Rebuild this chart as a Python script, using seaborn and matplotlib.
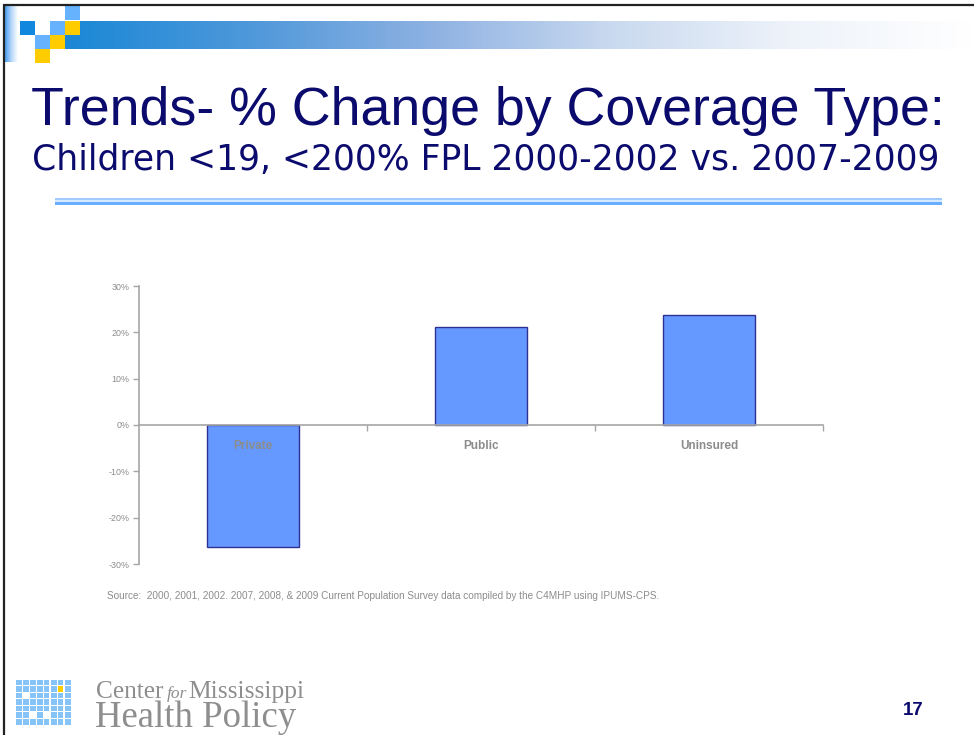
import numpy as np
import pandas as pd
import matplotlib
matplotlib.use("Agg")
import matplotlib.pyplot as plt
from matplotlib.patches import Rectangle
from matplotlib.colors import LinearSegmentedColormap
import seaborn as sns

# ---- data ----
categories = ["Private", "Public", "Uninsured"]
pct_change = [-0.264, 0.212, 0.237]
y_ticks = [-0.30, -0.20, -0.10, 0.0, 0.10, 0.20, 0.30]
y_tick_labels = ["-30%", "-20%", "-10%", "0%", "10%", "20%", "30%"]

title = "Trends- % Change by Coverage Type:"
subtitle = "Children <19, <200% FPL 2000-2002 vs. 2007-2009"
source = ("Source:  2000, 2001, 2002. 2007, 2008, & 2009 Current Population "
          "Survey data compiled by the C4MHP using IPUMS-CPS.")
slide_number = "17"

sns.set_theme(style="white")
plt.rcParams["font.family"] = ["Liberation Sans", "DejaVu Sans"]

W, H = 974, 735
fig = plt.figure(figsize=(W / 100, H / 100), dpi=100)
fig.patch.set_facecolor("white")


def fx(px):
    return px / W


def fy(py):
    return 1 - py / H


def rect(x0, y0, x1, y1, color, **kw):
    fig.patches.append(Rectangle((fx(x0), fy(y1)), fx(x1) - fx(x0), (y1 - y0) / H,
                                 transform=fig.transFigure, facecolor=color,
                                 edgecolor="none", **kw))


# ---- slide header decoration ----
band = fig.add_axes([fx(65), fy(49), fx(W) - fx(65), (49 - 21) / H])
band_cmap = LinearSegmentedColormap.from_list(
    "band", ["#1A88D6", "#4E98DA", "#8DB1E2", "#C9D9EF", "#EEF3FA", "#FFFFFF"])
band.imshow(np.linspace(0, 1, 400)[None, :], cmap=band_cmap, aspect="auto",
            extent=[0, 1, 0, 1])
band.set_axis_off()

strip = fig.add_axes([fx(5), fy(62), fx(18) - fx(5), (62 - 6) / H])
strip_cmap = LinearSegmentedColormap.from_list("strip", ["#4A9CF2", "#B9D8FA", "#FFFFFF"])
strip.imshow(np.linspace(0, 1, 50)[None, :], cmap=strip_cmap, aspect="auto",
             extent=[0, 1, 0, 1])
strip.set_axis_off()

for (x0, y0, c) in [(65, 6, "#66B2FF"), (20, 21, "#1188DD"), (50, 21, "#66B2FF"),
                    (65, 21, "#FFCC00"), (35, 35, "#66B2FF"), (50, 35, "#FFCC00"),
                    (35, 49, "#FFCC00")]:
    rect(x0, y0, x0 + 15, y0 + 14, c)

# slide frame
fig.add_artist(plt.Line2D([fx(4), fx(W)], [fy(5), fy(5)], transform=fig.transFigure,
                          color="#222222", linewidth=1.6))
fig.add_artist(plt.Line2D([fx(4), fx(4)], [fy(5), fy(H)], transform=fig.transFigure,
                          color="#222222", linewidth=1.6))

# titles
navy = "#0B0B6E"
fig.text(fx(31), fy(125), title, fontsize=38.7, color=navy, va="baseline", ha="left")
fig.text(fx(32), fy(170), subtitle, fontsize=24.9, color=navy, va="baseline", ha="left",
         family=["DejaVu Sans"])

# separator rule
rect(55, 198, 942, 200.5, "#9FCBFF")
rect(55, 200.5, 942, 202, "#D6E9FF")
rect(55, 202, 942, 205, "#6AAEFF")

# ---- chart ----
ax = fig.add_axes([fx(139), fy(564), fx(823) - fx(139), (564 - 286) / H])
df = pd.DataFrame({"coverage": categories, "change": pct_change})
sns.barplot(data=df, x="coverage", y="change", color="#6699FF", saturation=1,
            edgecolor="#2E3192", linewidth=1.0, width=0.4, ax=ax)

axis_gray = "#A6A6A6"
ax.set_axisbelow(False)
ax.set_xlim(-0.5, 2.5)
ax.set_ylim(-0.30, 0.30)
ax.set_yticks(y_ticks, y_tick_labels)
ax.set_xlabel("")
ax.set_ylabel("")
ax.grid(False)
for side in ["top", "right"]:
    ax.spines[side].set_visible(False)
ax.spines["bottom"].set_position(("data", 0))
for side in ["left", "bottom"]:
    ax.spines[side].set_color(axis_gray)
    ax.spines[side].set_linewidth(1.2)

ax.tick_params(axis="y", left=True, length=4, width=1, color=axis_gray,
               labelsize=6.4, labelcolor="#8C8C8C", pad=3)
ax.set_xticks([0.5, 1.5, 2.5], minor=True)
ax.tick_params(axis="x", which="major", bottom=True, length=0, pad=10.5,
               labelsize=8.5, labelcolor="#8C8C8C")
ax.tick_params(axis="x", which="minor", bottom=True, length=4, width=1,
               color=axis_gray, direction="out")
for lbl in ax.get_xticklabels():
    lbl.set_fontweight("bold")
    lbl.set_zorder(5)
ax.patch.set_alpha(0)

fig.text(fx(107), fy(596), source, fontsize=7.2, color="#8C8C8C", va="center", ha="left")

# ---- footer: logo and slide number ----
cols, rows = 8, 7
gx0, gy0, gx1, gy1 = 15, 679, 71, 725
cw, ch = (gx1 - gx0) / cols, (gy1 - gy0) / rows
special = {(6, 1): "#FFCC00", (1, 2): "white", (2, 5): "white", (4, 5): "white"}
for r in range(rows):
    for c in range(cols):
        col = special.get((c, r), "#86C3F7")
        x0 = gx0 + c * cw
        y0 = gy0 + r * ch
        rect(x0 + 0.5, y0 + 0.5, x0 + cw - 0.5, y0 + ch - 0.5, col)

logo_gray = "#8E8E8E"
serif = ["Liberation Serif", "DejaVu Serif"]
fig.text(fx(96), fy(698), "Center", fontsize=18.3, color=logo_gray, family=serif,
         va="baseline", ha="left")
fig.text(fx(167), fy(698), "for", fontsize=12.5, color=logo_gray, family=serif,
         style="italic", va="baseline", ha="left")
fig.text(fx(188), fy(698), "Mississippi", fontsize=18.3, color=logo_gray, family=serif,
         va="baseline", ha="left")
fig.text(fx(95), fy(727), "Health Policy", fontsize=26.5, color=logo_gray, family=serif,
         va="baseline", ha="left")

fig.text(fx(903), fy(715), slide_number, fontsize=13.5, color=navy, fontweight="bold",
         va="baseline", ha="left")

fig.savefig("out.png", dpi=100, facecolor="white")
